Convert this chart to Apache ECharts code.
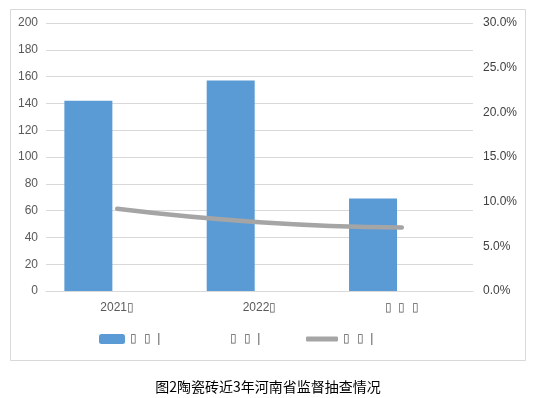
<!DOCTYPE html>
<html><head><meta charset="utf-8">
<script src="https://cdn.jsdelivr.net/npm/echarts@6/dist/echarts.min.js"></script>
<style>html,body{margin:0;padding:0;background:#fff;}#c{width:536px;height:398px;}</style>
</head><body><div id="c"></div>
<script>
const categories = ['2021\u25AF', '2022\u25AF', '\u25AF  \u25AF  \u25AF'];
const seriesNames = ['\u25AF  \u25AF  |', '\u25AF  \u25AF  |\u200B', '\u25AF  \u25AF  |\u200B\u200B'];
const barValues = [142, 157, 69];
const emptyBarValues = ['-', '-', '-'];
const rateValues = [0.092, 0.077, 0.071];
const leftTicks = { min: 0, max: 200, interval: 20 };
const rightTicks = { min: 0, max: 0.3, interval: 0.05 };
const titleText = '图2陶瓷砖近3年河南省监督抽查情况';

const chart = echarts.init(document.getElementById('c'), null, {renderer: 'canvas'});
const lbl = {color: '#595959', fontSize: 12, fontFamily: 'Liberation Sans, Arial, sans-serif'};
chart.setOption({
  animation: false,
  graphic: [{
    type: 'rect', shape: {x: 10.5, y: 9.5, width: 515, height: 351},
    style: {fill: 'none', stroke: '#d9d9d9', lineWidth: 1}, z: -1
  }],
  title: {
    text: titleText, left: 'center', top: 375,
    textStyle: {fontSize: 14, fontWeight: 'normal', color: '#000', fontFamily: 'Noto Sans CJK SC'}
  },
  legend: [
    {data: [seriesNames[0]], left: 99, top: 333, padding: 0, itemWidth: 26, itemHeight: 10, itemGap: 0, textStyle: lbl},
    {data: [{name: seriesNames[1], icon: 'none'}], left: 225, top: 333, padding: 0, itemWidth: 0, itemHeight: 10, textStyle: lbl},
    {data: [seriesNames[2]], left: 306, top: 333, padding: 0, itemWidth: 32, itemHeight: 5, icon: 'roundRect', textStyle: lbl}
  ],
  grid: {left: 46, right: 63, top: 23, bottom: 107},
  xAxis: {
    type: 'category', data: categories,
    axisLine: {lineStyle: {color: '#d9d9d9'}}, axisTick: {show: false},
    axisLabel: Object.assign({margin: 11}, lbl)
  },
  yAxis: [{
    type: 'value', min: leftTicks.min, max: leftTicks.max, interval: leftTicks.interval,
    axisLine: {show: false}, axisTick: {show: false},
    splitLine: {lineStyle: {color: '#d9d9d9'}},
    axisLabel: Object.assign({margin: 8}, lbl)
  }, {
    type: 'value', min: rightTicks.min, max: rightTicks.max, interval: rightTicks.interval,
    axisLine: {show: false}, axisTick: {show: false}, splitLine: {show: false},
    axisLabel: Object.assign({margin: 10, formatter: v => (v * 100).toFixed(1) + '%'}, lbl, {color: '#404040'})
  }],
  series: [{
    name: seriesNames[0], type: 'bar', data: barValues, barWidth: 48, barGap: '20%',
    itemStyle: {color: '#5b9bd5'}
  }, {
    name: seriesNames[1], type: 'bar', data: emptyBarValues, barWidth: 48,
    itemStyle: {color: 'rgba(0,0,0,0)'}
  }, {
    name: seriesNames[2], type: 'line', yAxisIndex: 1, data: rateValues, smooth: true,
    symbol: 'none', lineStyle: {color: '#a5a5a5', width: 4.5, cap: 'round'},
    itemStyle: {color: '#a5a5a5'}
  }]
});
</script></body></html>
